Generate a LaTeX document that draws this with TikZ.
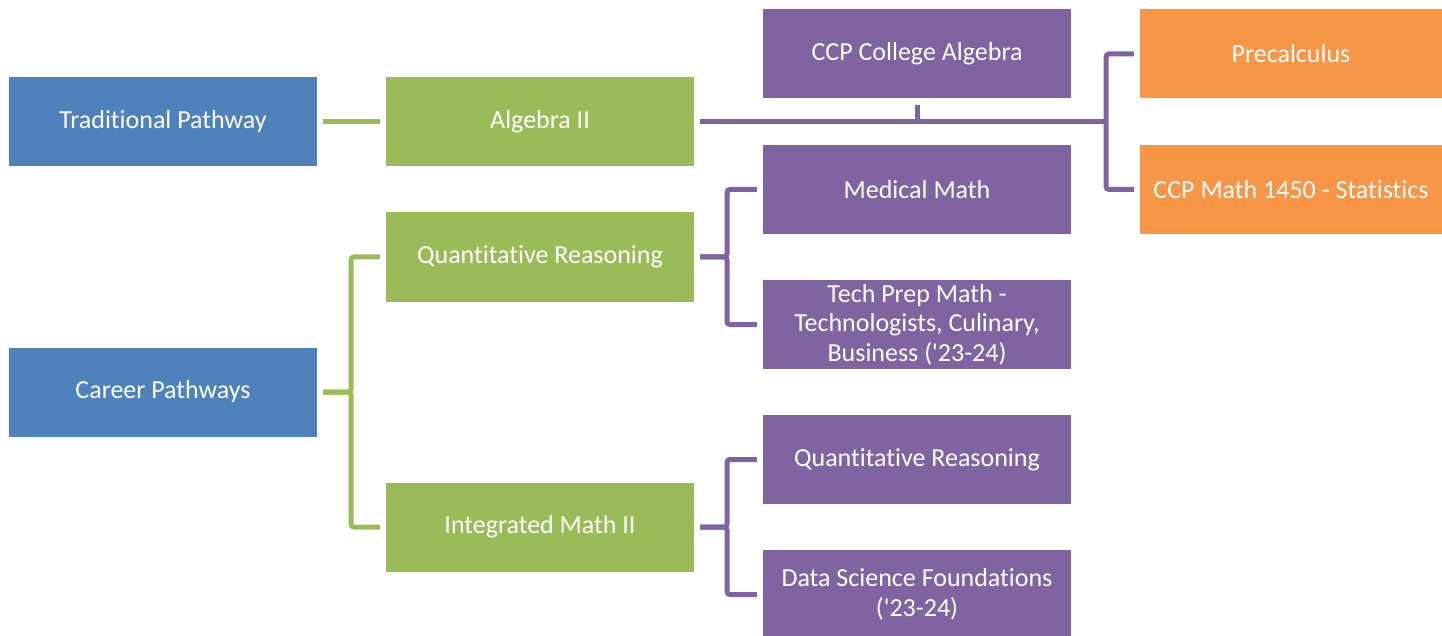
\documentclass[tikz,border=0pt]{standalone}
\usepackage{fontspec}
\setmainfont{Carlito}[RawFeature=-liga]
\usetikzlibrary{positioning,calc}
\definecolor{pathblue}{HTML}{4F81BD}
\definecolor{hsgreen}{HTML}{9BBB59}
\definecolor{ccppurple}{HTML}{8064A2}
\definecolor{nextorange}{HTML}{F79646}

\begin{document}
\begin{tikzpicture}[x=1pt,y=-1pt,
	box/.style={minimum width=308pt, minimum height=89pt, inner sep=0pt,
		text=white, align=center, font=\fontsize{26}{29.5}\selectfont},
	link/.style={line width=5pt, rounded corners=3pt,
		shorten <=6pt, shorten >=6pt}]
	% page frame
	\useasboundingbox (0,0) rectangle (1442,636);
	% pathways
	\node[box, fill=pathblue] (tp) at (163,122) {Traditional Pathway};
	\node[box, fill=pathblue] (cp) at (163,392) {Career Pathways};
	% high school courses
	\node[box, fill=hsgreen] (a2) at (540,122) {Algebra II};
	\node[box, fill=hsgreen] (qr) at (540,257) {Quantitative Reasoning};
	\node[box, fill=hsgreen] (im) at (540,527) {Integrated Math II};
	% follow-on courses
	\node[box, fill=ccppurple] (cca) at (917,54) {CCP College Algebra};
	\node[box, fill=ccppurple] (mm) at (917,189.5) {Medical Math};
	\node[box, fill=ccppurple] (tpm) at (917,324.5) {Tech Prep Math -\\Technologists, Culinary,\\Business (\textquotesingle 23-24)};
	\node[box, fill=ccppurple] (qr2) at (917,459.5) {Quantitative Reasoning};
	\node[box, fill=ccppurple] (dsf) at (917,594.5) {Data Science Foundations\\(\textquotesingle 23-24)};
	\node[box, fill=nextorange, minimum width=302pt] (pre) at (1291,54) {Precalculus};
	\node[box, fill=nextorange, minimum width=302pt] (stat) at (1291,189.5) {CCP Math 1450 - Statistics};
	% branch points
	\coordinate (cpbus) at (351,392);
	\coordinate (qrbus) at (727,257);
	\coordinate (imbus) at (727,527);
	\coordinate (a2bus) at (1106,122);
	% green links
	\draw[link, hsgreen] (tp) -- (a2);
	\draw[link, hsgreen] (cp.east) -- (cpbus) |- (qr.west);
	\draw[link, hsgreen] (cp.east) -- (cpbus) |- (im.west);
	% purple links
	\draw[link, ccppurple] (qr.east) -- (qrbus) |- (mm.west);
	\draw[link, ccppurple] (qr.east) -- (qrbus) |- (tpm.west);
	\draw[link, ccppurple] (im.east) -- (imbus) |- (qr2.west);
	\draw[link, ccppurple] (im.east) -- (imbus) |- (dsf.west);
	\draw[link, ccppurple, shorten >=0pt] (a2.east) -- (a2bus);
	\draw[link, ccppurple, shorten >=0pt] (cca.south) -- (cca.south |- a2bus);
	\draw[link, ccppurple, shorten <=0pt] (a2bus) |- (pre.west);
	\draw[link, ccppurple, shorten <=0pt] (a2bus) |- (stat.west);
\end{tikzpicture}
\end{document}
